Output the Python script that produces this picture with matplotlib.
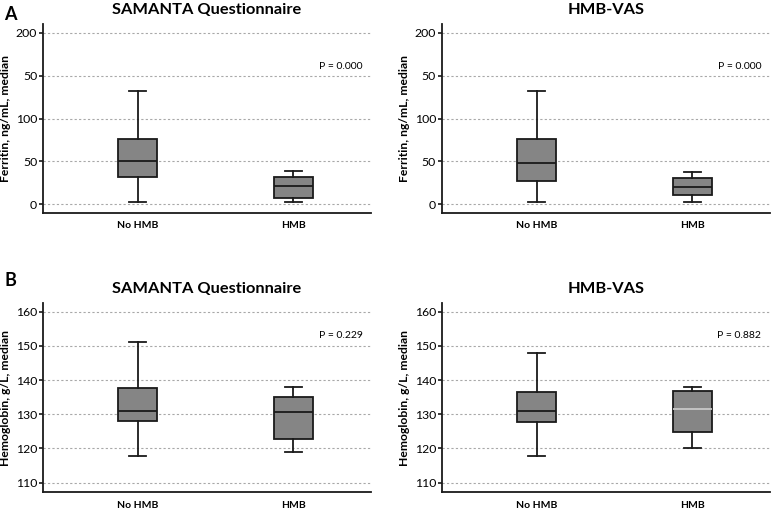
import matplotlib
matplotlib.use('Agg')
import matplotlib.pyplot as plt

plt.rcParams['font.family'] = ['Lato', 'DejaVu Sans']

groups = ['No HMB', 'HMB']
titles = ['SAMANTA Questionnaire', 'HMB-VAS']

# ferritin, ng/mL: whisker low, Q1, median, Q3, whisker high
fer_samanta = [[2.5, 31.5, 50.3, 76.5, 132.5], [2.3, 6.6, 21.0, 31.5, 39.0]]
fer_vas = [[2.5, 26.5, 48.3, 76.5, 132.5], [2.5, 10.1, 19.5, 30.0, 37.4]]
fer_p = ['P = 0.000', 'P = 0.000']
fer_ticks = [0, 50, 100, 150, 200]
fer_ticklabels = ['0', '50', '100', '50', '200']

# hemoglobin, g/L
hb_samanta = [[117.9, 128.0, 131.0, 137.6, 151.0], [119.0, 122.7, 130.6, 135.0, 138.0]]
hb_vas = [[117.9, 127.8, 131.0, 136.5, 148.0], [120.0, 124.9, 131.5, 136.9, 138.0]]
hb_p = ['P = 0.229', 'P = 0.882']
hb_ticks = [110, 120, 130, 140, 150, 160]

W, H = 772, 511
fig = plt.figure(figsize=(W / 100, H / 100), dpi=100)

def panel(rect, data, ticks, ticklabels, ylim, ylabel, title, ptext, py, light_median=None):
    ax = fig.add_axes(rect)
    stats = []
    for g, (lo, q1, med, q3, hi) in zip(groups, data):
        stats.append({'label': g, 'whislo': lo, 'q1': q1, 'med': med, 'q3': q3, 'whishi': hi, 'fliers': []})
    bp = ax.bxp(stats, positions=[0, 1], widths=0.25, patch_artist=True, showfliers=False,
                boxprops=dict(facecolor='#858585', edgecolor='#1a1a1a', linewidth=1.3),
                medianprops=dict(color='#1a1a1a', linewidth=1.3),
                whiskerprops=dict(color='#1a1a1a', linewidth=1.3),
                capprops=dict(color='#1a1a1a', linewidth=1.3),
                capwidths=0.11)
    if light_median is not None:
        bp['medians'][light_median].set_color('#c8c8c8')
    ax.set_xlim(-0.61, 1.5)
    ax.set_ylim(*ylim)
    ax.set_yticks(ticks)
    ax.set_yticklabels(ticklabels if ticklabels else [str(t) for t in ticks])
    ax.yaxis.grid(True, linestyle=(0, (2, 2)), color='#a8a8a8', linewidth=0.8)
    ax.set_axisbelow(True)
    for s in ['top', 'right']:
        ax.spines[s].set_visible(False)
    for s in ['left', 'bottom']:
        ax.spines[s].set_linewidth(1.3)
        ax.spines[s].set_color('#1a1a1a')
    ax.tick_params(axis='y', length=3, width=1.2, labelsize=8.8, pad=1, color='#1a1a1a')
    ax.tick_params(axis='x', length=0, labelsize=7.5, pad=6)
    for t in ax.get_xticklabels():
        t.set_fontweight('bold')
    ax.set_ylabel(ylabel, fontsize=8.7, fontweight='bold', va='center')
    ax.yaxis.set_label_coords(-0.113, 0.5)
    ax.set_title(title, fontsize=11.8, fontweight='bold', pad=7)
    ax.text(1.445, py, ptext, fontsize=7.5, ha='right', va='center')
    return ax

lw = 0.4253
panel([0.0553, 0.583, lw, 0.370], fer_samanta, fer_ticks, fer_ticklabels, (-10.5, 210.5),
      'Ferritin, ng/mL, median', titles[0], fer_p[0], 161)
panel([0.572, 0.583, lw, 0.370], fer_vas, fer_ticks, fer_ticklabels, (-10.5, 210.5),
      'Ferritin, ng/mL, median', titles[1], fer_p[1], 161)
panel([0.0553, 0.0366, lw, 0.371], hb_samanta, hb_ticks, None, (107.2, 162.6),
      'Hemoglobin, g/L, median', titles[0], hb_p[0], 153)
panel([0.572, 0.0366, lw, 0.371], hb_vas, hb_ticks, None, (107.2, 162.6),
      'Hemoglobin, g/L, median', titles[1], hb_p[1], 153, light_median=1)

fig.text(0.013, 0.9726, 'A', fontsize=13, fontweight='bold', ha='center', va='center')
fig.text(0.013, 0.452, 'B', fontsize=13, fontweight='bold', ha='center', va='center')

fig.savefig('out.png', dpi=100)
